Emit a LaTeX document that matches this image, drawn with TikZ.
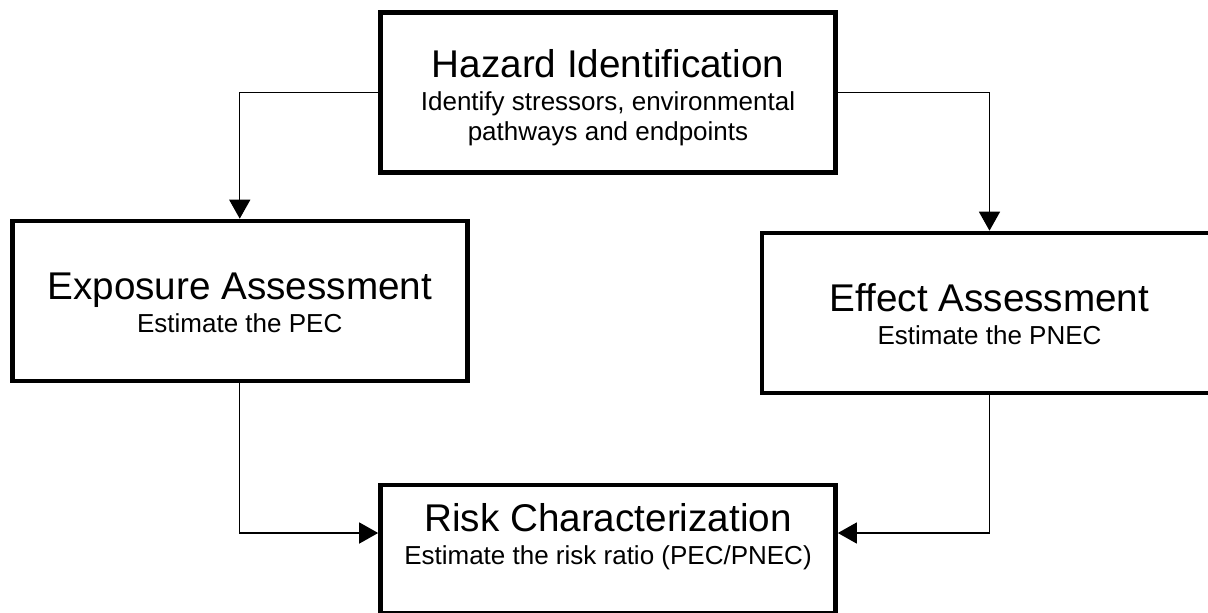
\documentclass[tikz,border=0pt]{standalone}
\usepackage{fontspec}
\setmainfont{Liberation Sans}
\usetikzlibrary{arrows.meta}
% title line of a stage, followed by the line break to its description
\newcommand\stagetitle[1]{{\fontsize{29}{33}\selectfont #1}\\[2.25pt]}
\begin{document}
\begin{tikzpicture}[x=0.75pt,y=-0.75pt,
  stage/.style={draw=black,line width=3.5pt,minimum width=341.25pt,minimum height=120pt,inner sep=0pt},
  stagetext/.style={align=center,inner sep=0pt,font=\fontsize{19.5}{22.5}\selectfont},
  link/.style={draw=black,line width=1.1pt,-{Triangle[length=14.25pt,width=15.75pt]}}]
\useasboundingbox (0,0) rectangle (1208,612);
\fill[white] (0,0) rectangle (1208,612);

% the four stages
\node[stage] (haz) at (608,92.25) {};
\node[stage] (exp) at (239.75,301) {};
\node[stage] (eff) at (989.5,313) {};
\node[stage,minimum height=96.4pt] (risk) at (608,549.25) {};

% their texts
\node[stagetext] (hazT) at (608,97.2) {\stagetitle{Hazard Identification}Identify stressors, environmental\\pathways and endpoints};
\node[stagetext] (expT) at (239.75,302.6) {\stagetitle{Exposure Assessment}Estimate the PEC};
\node[stagetext] (effT) at (989.5,314.6) {\stagetitle{Effect Assessment}Estimate the PNEC};
\node[stagetext] (riskT) at (608,537) {\stagetitle{Risk Characterization}Estimate the risk ratio (PEC/PNEC)};

% connectors
\draw[link] (haz.west) -| (exp.north);
\draw[link] (haz.east) -| (eff.north);
\draw[link] (exp.south) |- ([yshift=12.19pt]risk.west);
\draw[link] (eff.south) |- ([yshift=12.19pt]risk.east);
\end{tikzpicture}
\end{document}
